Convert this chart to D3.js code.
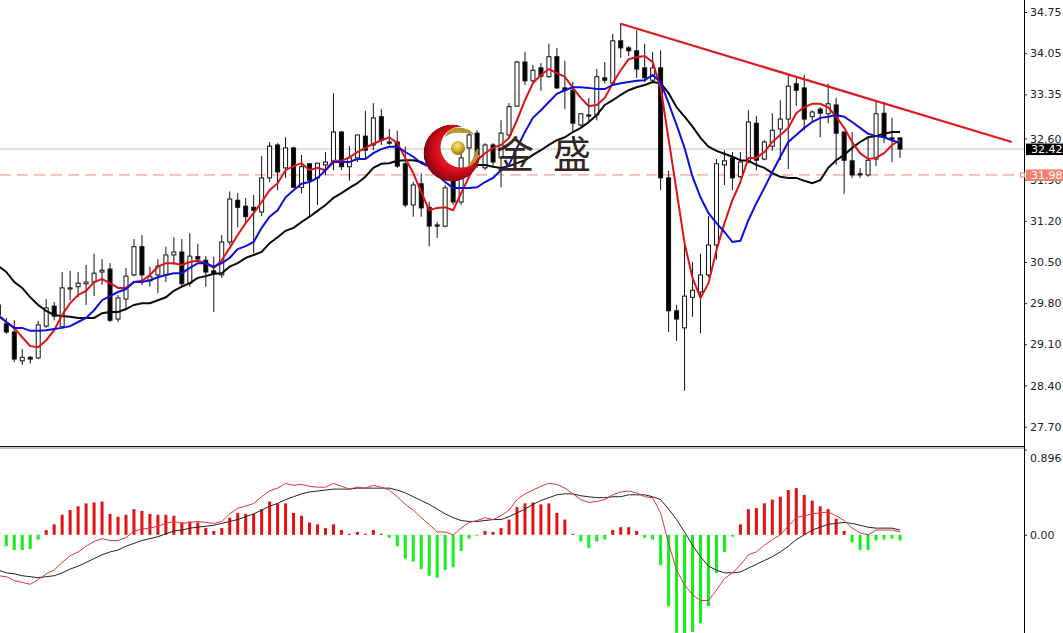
<!DOCTYPE html>
<html><head><meta charset="utf-8">
<script src="https://cdn.jsdelivr.net/npm/d3@7"></script>
<style>html,body{margin:0;padding:0;background:#fff;overflow:hidden}svg{display:block}</style>
</head><body><div id="chart"></div>
<script>
const opens=[29.77,29.45,29.31,28.82,28.88,28.87,29.41,29.75,29.40,30.04,30.08,30.13,30.16,30.33,30.38,29.53,29.87,30.28,30.76,30.18,30.28,30.28,30.62,30.67,30.14,30.59,30.53,30.35,30.28,30.84,31.55,31.45,31.43,31.35,31.93,32.49,32.10,32.44,31.77,32.17,31.93,32.15,32.20,32.71,32.12,32.27,32.64,32.49,32.97,32.54,32.54,32.17,31.47,31.83,31.43,31.13,31.11,31.89,31.52,32.44,32.69,32.10,32.49,32.27,32.66,33.15,33.90,33.58,33.80,33.65,33.99,33.46,33.42,32.83,33.00,33.00,33.63,33.54,34.26,34.14,34.09,33.80,33.59,33.80,31.93,29.67,29.38,29.90,29.99,30.28,30.79,32.15,32.27,31.95,32.20,32.86,32.25,32.47,32.76,32.93,33.53,33.46,32.97,33.10,33.02,33.17,32.71,32.22,32.00,31.98,32.25,33.03,32.61,32.61];
const highs=[29.80,29.55,29.51,29.02,28.90,29.50,29.87,29.82,30.33,30.35,30.33,30.45,30.64,30.55,30.48,29.94,30.40,30.89,30.96,30.42,30.55,30.76,30.92,30.89,30.99,30.81,30.60,30.59,30.96,31.70,31.67,31.59,31.64,32.30,32.54,32.52,32.62,32.46,32.32,32.18,32.18,32.37,33.37,32.73,32.47,32.66,33.07,33.20,33.10,32.76,32.73,32.46,31.86,32.01,31.52,31.18,31.81,32.03,32.40,32.74,32.74,32.52,32.52,32.91,33.20,33.92,34.07,33.85,33.88,34.21,34.14,33.92,33.56,33.03,33.29,33.78,33.90,34.38,34.56,34.17,34.44,34.21,34.07,34.10,32.05,29.77,30.77,30.50,30.64,31.28,32.25,32.40,32.37,32.37,33.08,32.98,32.57,33.03,33.25,33.68,33.65,33.68,33.08,33.13,33.53,33.29,32.71,32.71,32.10,32.62,33.22,33.22,32.95,32.61];
const lows=[29.34,29.28,28.80,28.75,28.77,28.85,29.38,29.51,29.39,29.85,29.90,29.77,29.92,30.11,29.48,29.48,29.68,30.26,30.11,30.08,29.97,30.16,30.45,30.09,30.08,30.50,30.08,29.65,30.23,30.79,31.09,31.16,30.65,31.28,31.86,31.72,31.93,31.76,31.67,31.27,31.47,31.98,32.06,32.06,31.88,32.20,32.27,32.40,32.49,32.49,32.10,31.43,31.27,31.27,30.77,30.91,31.09,31.47,31.47,32.15,32.10,32.06,32.12,31.77,32.62,33.14,33.51,33.54,33.41,33.63,33.44,33.10,32.69,32.80,32.86,32.91,33.54,33.51,33.97,34.00,33.63,33.56,33.54,31.72,29.31,29.16,28.31,29.57,29.29,30.24,30.54,31.81,31.72,31.93,32.18,32.06,32.23,32.39,32.23,32.08,33.15,32.74,32.88,32.62,32.86,32.15,31.66,31.93,31.93,31.95,32.13,32.52,32.20,32.27];
const closes=[29.60,29.31,28.85,28.88,28.85,29.43,29.72,29.58,30.06,30.06,30.14,30.16,30.31,30.36,29.51,29.89,30.26,30.76,30.28,30.25,30.43,30.62,30.67,30.13,30.60,30.55,30.33,30.30,30.84,31.57,31.43,31.27,31.38,31.93,32.47,32.03,32.44,31.77,32.12,31.89,32.18,32.20,32.71,32.12,32.27,32.66,32.40,32.95,32.57,32.52,32.13,31.47,31.81,31.42,31.11,31.11,31.76,31.52,32.27,32.66,32.32,32.49,32.20,32.69,33.14,33.90,33.58,33.76,33.66,33.99,33.46,33.42,32.86,33.02,32.98,33.65,33.59,34.26,34.14,34.09,33.78,33.63,33.80,31.93,29.67,29.53,29.92,30.02,30.28,30.79,32.17,32.22,31.93,32.20,32.88,32.23,32.54,32.74,32.93,33.49,33.42,32.93,33.05,33.03,33.19,32.69,32.23,31.98,31.98,32.23,33.02,32.62,32.59,32.42];
const maFast=[29.60,29.48,29.38,29.22,29.07,29.05,29.17,29.34,29.60,29.80,29.94,30.01,30.16,30.21,30.14,30.06,30.06,30.16,30.18,30.28,30.42,30.48,30.48,30.45,30.50,30.52,30.48,30.40,30.53,30.74,30.96,31.16,31.33,31.52,31.72,31.84,32.06,32.13,32.18,32.06,32.10,32.06,32.22,32.22,32.28,32.37,32.44,32.51,32.57,32.62,32.52,32.27,32.01,31.69,31.38,31.42,31.43,31.38,31.67,31.95,32.23,32.35,32.44,32.49,32.61,32.91,33.25,33.54,33.68,33.78,33.71,33.65,33.46,33.29,33.15,33.17,33.29,33.54,33.76,33.95,33.98,34.00,33.90,33.47,32.59,31.71,30.82,30.23,29.89,30.14,30.70,31.16,31.55,31.86,32.27,32.27,32.37,32.54,32.66,32.78,33.03,33.13,33.19,33.19,33.13,32.97,32.78,32.54,32.35,32.25,32.27,32.35,32.49,32.57];
const maMid=[29.58,29.48,29.38,29.38,29.33,29.33,29.34,29.36,29.38,29.41,29.48,29.55,29.68,29.85,29.92,29.99,30.04,30.16,30.16,30.19,30.24,30.28,30.31,30.31,30.40,30.48,30.48,30.42,30.48,30.57,30.72,30.77,30.84,31.08,31.27,31.38,31.60,31.72,31.83,31.86,31.93,32.06,32.20,32.20,32.20,32.25,32.25,32.35,32.42,32.46,32.46,32.37,32.29,32.18,32.12,31.98,31.86,31.76,31.76,31.76,31.77,31.86,31.93,32.06,32.15,32.44,32.71,32.95,33.08,33.22,33.36,33.42,33.47,33.47,33.46,33.44,33.44,33.51,33.54,33.56,33.58,33.59,33.68,33.56,33.20,32.83,32.44,31.95,31.60,31.33,31.16,31.01,30.84,30.86,31.21,31.50,31.76,32.03,32.29,32.54,32.66,32.78,32.88,32.95,32.97,33.00,32.97,32.88,32.78,32.68,32.64,32.62,32.57,32.52];
const maSlow=[30.43,30.33,30.16,30.06,29.90,29.77,29.67,29.60,29.58,29.57,29.55,29.55,29.55,29.63,29.65,29.65,29.70,29.77,29.80,29.80,29.85,29.90,30.01,30.08,30.14,30.23,30.26,30.30,30.31,30.42,30.48,30.57,30.62,30.67,30.82,30.92,31.03,31.08,31.18,31.27,31.37,31.47,31.59,31.67,31.76,31.84,31.95,32.10,32.17,32.18,32.22,32.23,32.23,32.20,32.12,31.96,31.93,31.93,31.98,32.06,32.15,32.15,32.12,32.10,32.13,32.18,32.23,32.32,32.40,32.49,32.57,32.62,32.71,32.78,32.88,33.00,33.17,33.25,33.34,33.42,33.47,33.51,33.56,33.54,33.37,33.13,32.97,32.80,32.61,32.46,32.39,32.34,32.29,32.23,32.22,32.15,32.10,32.01,31.95,31.93,31.93,31.88,31.84,31.89,32.10,32.23,32.32,32.44,32.54,32.62,32.64,32.68,32.71,32.71];
const histogram=[-0.10,-0.12,-0.16,-0.16,-0.15,-0.05,0.05,0.11,0.21,0.26,0.30,0.33,0.34,0.35,0.22,0.19,0.21,0.27,0.25,0.22,0.21,0.21,0.20,0.13,0.14,0.13,0.07,0.04,0.07,0.18,0.23,0.22,0.22,0.27,0.35,0.33,0.33,0.23,0.20,0.13,0.11,0.07,0.11,0.05,0.01,0.03,0.01,0.05,0.01,-0.03,-0.12,-0.25,-0.28,-0.36,-0.43,-0.45,-0.37,-0.34,-0.17,-0.04,-0.01,0.04,0.03,0.07,0.16,0.29,0.33,0.34,0.32,0.33,0.23,0.16,0.01,-0.07,-0.14,-0.07,-0.05,0.05,0.08,0.08,0.04,-0.03,-0.05,-0.32,-0.75,-1.03,-1.04,-1.02,-0.93,-0.75,-0.40,-0.18,-0.02,0.11,0.27,0.28,0.33,0.37,0.40,0.47,0.49,0.42,0.36,0.30,0.27,0.17,0.04,-0.08,-0.16,-0.16,-0.06,-0.05,-0.04,-0.06];
const macdLine=[-0.43,-0.44,-0.48,-0.50,-0.52,-0.47,-0.41,-0.37,-0.29,-0.22,-0.18,-0.12,-0.07,-0.04,-0.06,-0.06,-0.03,0.04,0.06,0.07,0.09,0.12,0.14,0.12,0.13,0.14,0.13,0.12,0.14,0.22,0.28,0.30,0.33,0.40,0.46,0.49,0.54,0.52,0.53,0.51,0.50,0.50,0.54,0.51,0.48,0.50,0.49,0.52,0.50,0.47,0.40,0.32,0.26,0.18,0.11,0.03,0.03,0.00,0.07,0.13,0.15,0.18,0.16,0.20,0.26,0.37,0.43,0.47,0.51,0.54,0.53,0.49,0.43,0.37,0.34,0.35,0.37,0.42,0.45,0.46,0.44,0.40,0.39,0.23,-0.09,-0.37,-0.53,-0.63,-0.69,-0.69,-0.58,-0.46,-0.40,-0.32,-0.21,-0.18,-0.11,-0.05,0.00,0.09,0.18,0.20,0.22,0.23,0.24,0.20,0.15,0.07,0.02,0.00,0.05,0.05,0.05,0.03];
const signalLine=[-0.37,-0.40,-0.41,-0.43,-0.44,-0.45,-0.44,-0.43,-0.40,-0.36,-0.33,-0.29,-0.25,-0.21,-0.18,-0.16,-0.12,-0.09,-0.06,-0.04,-0.02,0.01,0.04,0.05,0.07,0.08,0.09,0.10,0.12,0.14,0.16,0.19,0.22,0.26,0.30,0.33,0.37,0.40,0.43,0.45,0.46,0.47,0.48,0.48,0.48,0.49,0.49,0.49,0.49,0.49,0.47,0.44,0.40,0.36,0.32,0.27,0.22,0.18,0.15,0.14,0.14,0.15,0.16,0.16,0.19,0.23,0.27,0.32,0.36,0.39,0.42,0.43,0.43,0.41,0.40,0.39,0.39,0.40,0.40,0.42,0.42,0.42,0.40,0.37,0.27,0.16,0.03,-0.11,-0.23,-0.33,-0.37,-0.40,-0.40,-0.39,-0.35,-0.31,-0.27,-0.23,-0.18,-0.12,-0.05,0.00,0.05,0.08,0.11,0.12,0.13,0.12,0.10,0.08,0.07,0.07,0.07,0.05];
const priceTicks=[34.75,34.05,33.35,32.60,31.90,31.20,30.50,29.80,29.10,28.40,27.70];
const macdTicks=[0.896,0];
const lastPrice=32.42;
const alertPrice=31.98;
const trendBars=[78,127];
const trendPrices=[34.55,32.54];
const brandText="金盛";

const W=1063,H=633,AX=1024;
const n=opens.length;
const idx=d3.range(n);
const x=d3.scaleLinear().domain([1,113]).range([6.3,900]);
const y=d3.scaleLinear().domain([34.954,27.372]).range([0,446]);
const m=d3.scaleLinear().domain([0.896,0]).range([449.5,534.8]);

const svg=d3.select("#chart").append("svg").attr("width",W).attr("height",H).attr("viewBox",`0 0 ${W} ${H}`);
const defs=svg.append("defs");
defs.append("clipPath").attr("id","plot").append("rect").attr("width",AX).attr("height",446);
defs.append("clipPath").attr("id","sub").append("rect").attr("y",449).attr("width",AX).attr("height",184);

const mainG=svg.append("g").attr("clip-path","url(#plot)");
mainG.append("line").attr("x1",0).attr("x2",AX).attr("y1",y(lastPrice)).attr("y2",y(lastPrice)).attr("stroke","#c4c4c4");
mainG.append("line").attr("x1",0).attr("x2",AX).attr("y1",y(alertPrice)).attr("y2",y(alertPrice)).attr("stroke","#ee8a7c").attr("stroke-dasharray","11,6");

const c=mainG.append("g").selectAll("g").data(idx).join("g");
c.append("line").attr("x1",i=>x(i)).attr("x2",i=>x(i)).attr("y1",i=>y(highs[i])).attr("y2",i=>y(lows[i])).attr("stroke","#111").attr("stroke-width",1);
c.append("rect").attr("x",i=>x(i)-2).attr("width",4)
 .attr("y",i=>y(Math.max(opens[i],closes[i])))
 .attr("height",i=>Math.max(1,Math.abs(y(opens[i])-y(closes[i]))))
 .attr("fill",i=>closes[i]>=opens[i]?"#fff":"#000")
 .attr("stroke","#111").attr("stroke-width",1);

const lp=arr=>d3.line().x(i=>x(i)).y(i=>y(arr[i]))(idx);
mainG.append("path").attr("d",lp(maSlow)).attr("fill","none").attr("stroke","#0a0a0a").attr("stroke-width",2);
mainG.append("path").attr("d",lp(maFast)).attr("fill","none").attr("stroke","#e01218").attr("stroke-width",2);
mainG.append("path").attr("d",lp(maMid)).attr("fill","none").attr("stroke","#0c10d8").attr("stroke-width",2);
mainG.append("line").attr("x1",x(trendBars[0])).attr("x2",x(trendBars[1])).attr("y1",y(trendPrices[0])).attr("y2",y(trendPrices[1])).attr("stroke","#e01820").attr("stroke-width",2.2);

// logo
const rg=defs.append("radialGradient").attr("id","cres").attr("gradientUnits","userSpaceOnUse").attr("cx",456).attr("cy",150).attr("r",33);
[[0,"#ff3a3a"],[0.62,"#d80c1c"],[0.85,"#a80814"],[1,"#7a0410"]].forEach(s=>rg.append("stop").attr("offset",s[0]).attr("stop-color",s[1]));
const bg=defs.append("radialGradient").attr("id","ball").attr("cx","45%").attr("cy","35%").attr("r","65%");
[[0,"#fbe98c"],[0.6,"#cfa92c"],[1,"#8a6a14"]].forEach(s=>bg.append("stop").attr("offset",s[0]).attr("stop-color",s[1]));
const mk=defs.append("mask").attr("id","cm").attr("maskUnits","userSpaceOnUse").attr("x",0).attr("y",0).attr("width",W).attr("height",H);
mk.append("circle").attr("cx",452).attr("cy",153).attr("r",28.5).attr("fill","#fff");
mk.append("circle").attr("cx",461).attr("cy",147).attr("r",20.5).attr("fill","#000");
const logo=svg.append("g");
logo.append("circle").attr("cx",452).attr("cy",153).attr("r",28.5).attr("fill","url(#cres)").attr("mask","url(#cm)");
logo.append("circle").attr("cx",458).attr("cy",148).attr("r",7).attr("fill","url(#ball)");
logo.append("path").attr("d","M445,137 C447,129 456,126 463,128 C468,129 472,131 474,135 C470,133 466,133 462,133 C456,132 450,133 445,137Z").attr("fill","#b8962e");
logo.append("path").attr("d","M478,148 C480,156 475,165 466,168 C470,163 473,160 474,155 C475,152 476,150 478,148Z").attr("fill","#b8962e");
svg.append("text").attr("x",496).attr("y",168).attr("font-family","'Noto Sans CJK SC'").attr("font-size",38).attr("letter-spacing",19).attr("fill","#33261c").text(brandText);

// MACD
const subG=svg.append("g").attr("clip-path","url(#sub)");
subG.selectAll("rect").data(idx).join("rect")
 .attr("x",i=>x(i)-1.5).attr("width",3)
 .attr("y",i=>Math.min(m(0),m(histogram[i])))
 .attr("height",i=>Math.abs(m(histogram[i])-m(0)))
 .attr("fill",i=>histogram[i]>=0?"#e60f12":"#14f01e");
const lm=arr=>d3.line().x(i=>x(i)).y(i=>m(arr[i]))(idx);
subG.append("path").attr("d",lm(signalLine)).attr("fill","none").attr("stroke","#222").attr("stroke-width",1);
subG.append("path").attr("d",lm(macdLine)).attr("fill","none").attr("stroke","#e0343a").attr("stroke-width",1);

// frames and axes
svg.append("line").attr("x1",0).attr("x2",AX).attr("y1",446.5).attr("y2",446.5).attr("stroke","#111");
svg.append("line").attr("x1",0).attr("x2",AX).attr("y1",448).attr("y2",448).attr("stroke","#888");
const fmt2=d3.format(".2f");
const ay=d3.axisRight(y).tickValues(priceTicks).tickSize(3).tickPadding(3).tickFormat(fmt2);
const am=d3.axisRight(m).tickValues(macdTicks).tickSize(3).tickPadding(3).tickFormat(d=>d===0?"0.00":d3.format(".3f")(d));
const gy=svg.append("g").attr("transform",`translate(${AX},0)`).call(ay);
const gm=svg.append("g").attr("transform",`translate(${AX},0)`).call(am);
[gy,gm].forEach(g=>{g.select(".domain").remove();
 g.selectAll("text").attr("font-family","'DejaVu Sans'").attr("font-size",11).attr("fill","#222");
 g.selectAll("line").attr("stroke","#222");});
gm.selectAll("text").filter(d=>d>0).attr("dy","1.05em");
svg.append("line").attr("x1",AX+0.5).attr("x2",AX+0.5).attr("y1",0).attr("y2",H).attr("stroke","#000");

const tag=(v,fill)=>{const yy=y(v);
 svg.append("rect").attr("x",AX+2).attr("y",yy-5.5).attr("width",37).attr("height",11.5).attr("fill",fill);
 svg.append("text").attr("x",AX+7).attr("y",yy+4.2).attr("font-family","'DejaVu Sans'").attr("font-size",11).attr("fill","#fff").text(fmt2(v));};
tag(lastPrice,"#000");
tag(alertPrice,"#f2806e");
svg.append("rect").attr("x",AX-3.5).attr("y",y(alertPrice)-2).attr("width",4).attr("height",4).attr("fill","#fff").attr("stroke","#ee8a7c");
</script></body></html>
